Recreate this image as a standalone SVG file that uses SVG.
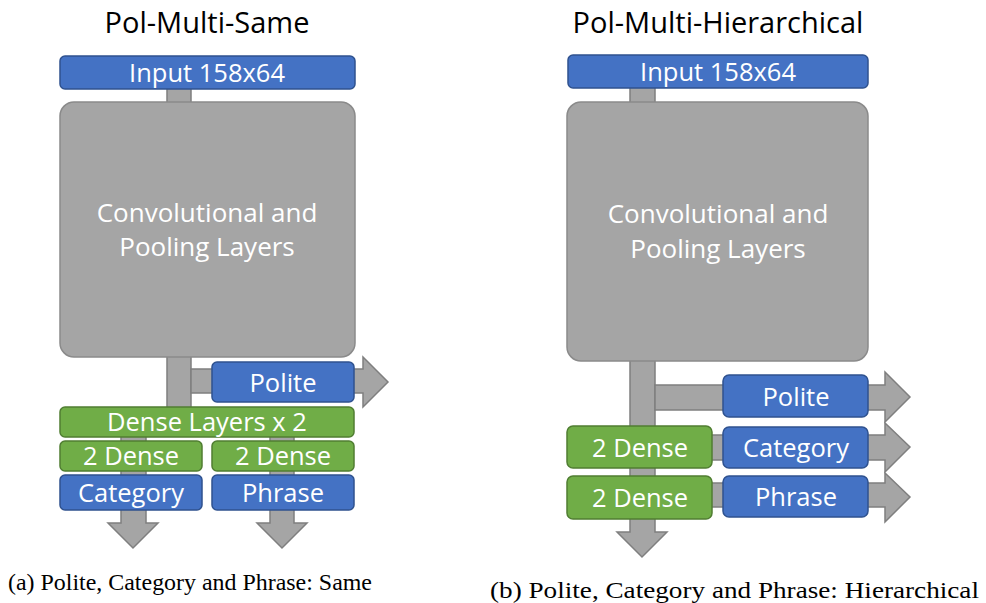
<svg xmlns="http://www.w3.org/2000/svg" width="986" height="603" viewBox="0 0 986 603">
<style>
.blue{fill:#4472C4;stroke:#2F528F;stroke-width:1.5}
.green{fill:#70AD47;stroke:#507E32;stroke-width:1.5}
.gray{fill:#A5A5A5;stroke:#7F7F7F;stroke-width:1.5}
.conv{fill:#A5A5A5;stroke:#8A8A8A;stroke-width:1.5}
.t{font-family:"Open Sans","Noto Sans",sans-serif;fill:#fff;text-anchor:middle;font-size:25.5px}
.c{font-size:26px}
.title{font-family:"Open Sans","Noto Sans",sans-serif;fill:#000;text-anchor:middle;font-size:29px}
.cap{font-family:"Liberation Serif",serif;fill:#000}
</style>
<rect width="986" height="603" fill="#fff"/>
<text class="title" x="207" y="33">Pol-Multi-Same</text>
<text class="title" x="718" y="33">Pol-Multi-Hierarchical</text>
<g id="connectors">
<rect class="gray" x="167" y="85" width="24" height="20"/>
<rect class="gray" x="167" y="354" width="24" height="55"/>
<polygon class="gray" points="191,369 363,369 363,357 388,382 363,407 363,393 191,393"/>
<polygon class="gray" points="121,435 146,435 146,523 158,523 133,548 108,523 121,523"/>
<polygon class="gray" points="270,435 294,435 294,523 307,523 282,548 257,523 270,523"/>
<rect class="gray" x="630" y="84" width="25" height="20"/>
<polygon class="gray" points="630,358 655,358 655,532 667,532 642,557 617,532 630,532"/>
<polygon class="gray" points="655,385 885,385 885,372 910,397 885,422 885,410 655,410"/>
<polygon class="gray" points="700,435 885,435 885,423 910,447 885,472 885,460 700,460"/>
<polygon class="gray" points="700,483 885,483 885,473 910,497 885,522 885,507 700,507"/>
</g>
<g id="a-input"><rect class="blue" x="60" y="56" width="295" height="33" rx="5"/><text class="t" x="207" y="82">Input 158x64</text></g>
<g id="a-conv"><rect class="conv" x="60" y="102" width="295" height="255" rx="14"/><text class="t c" x="207" y="222">Convolutional and</text><text class="t c" x="207" y="256">Pooling Layers</text></g>
<g id="a-polite"><rect class="blue" x="212" y="362" width="142" height="40" rx="5"/><text class="t" x="283" y="392">Polite</text></g>
<g id="a-dense"><rect class="green" x="60" y="407" width="294" height="30" rx="5"/><text class="t" x="207" y="431">Dense Layers x 2</text></g>
<g id="a-dense-left"><rect class="green" x="60" y="441" width="142" height="30" rx="5"/><text class="t" x="131" y="465">2 Dense</text></g>
<g id="a-dense-right"><rect class="green" x="212" y="441" width="142" height="30" rx="5"/><text class="t" x="283" y="465">2 Dense</text></g>
<g id="a-category"><rect class="blue" x="60" y="475" width="142" height="35" rx="5"/><text class="t" x="131" y="502">Category</text></g>
<g id="a-phrase"><rect class="blue" x="212" y="475" width="142" height="35" rx="5"/><text class="t" x="283" y="502">Phrase</text></g>
<g id="b-input"><rect class="blue" x="568" y="55" width="300" height="33" rx="5"/><text class="t" x="718" y="81">Input 158x64</text></g>
<g id="b-conv"><rect class="conv" x="567" y="102" width="301" height="259" rx="14"/><text class="t c" x="718" y="223">Convolutional and</text><text class="t c" x="718" y="258">Pooling Layers</text></g>
<g id="b-polite"><rect class="blue" x="723" y="375" width="145" height="42" rx="6"/><text class="t" x="796" y="406">Polite</text></g>
<g id="b-dense1"><rect class="green" x="567" y="426" width="145" height="42" rx="6"/><text class="t" x="640" y="457">2 Dense</text></g>
<g id="b-category"><rect class="blue" x="723" y="427" width="145" height="41" rx="6"/><text class="t" x="796" y="457">Category</text></g>
<g id="b-dense2"><rect class="green" x="567" y="476" width="145" height="43" rx="6"/><text class="t" x="640" y="507">2 Dense</text></g>
<g id="b-phrase"><rect class="blue" x="723" y="476" width="145" height="41" rx="6"/><text class="t" x="796" y="506">Phrase</text></g>
<text class="cap" x="8" y="590" font-size="23" textLength="364" lengthAdjust="spacingAndGlyphs">(a) Polite, Category and Phrase: Same</text>
<text class="cap" x="490" y="598" font-size="24" textLength="489" lengthAdjust="spacingAndGlyphs">(b) Polite, Category and Phrase: Hierarchical</text>
</svg>
